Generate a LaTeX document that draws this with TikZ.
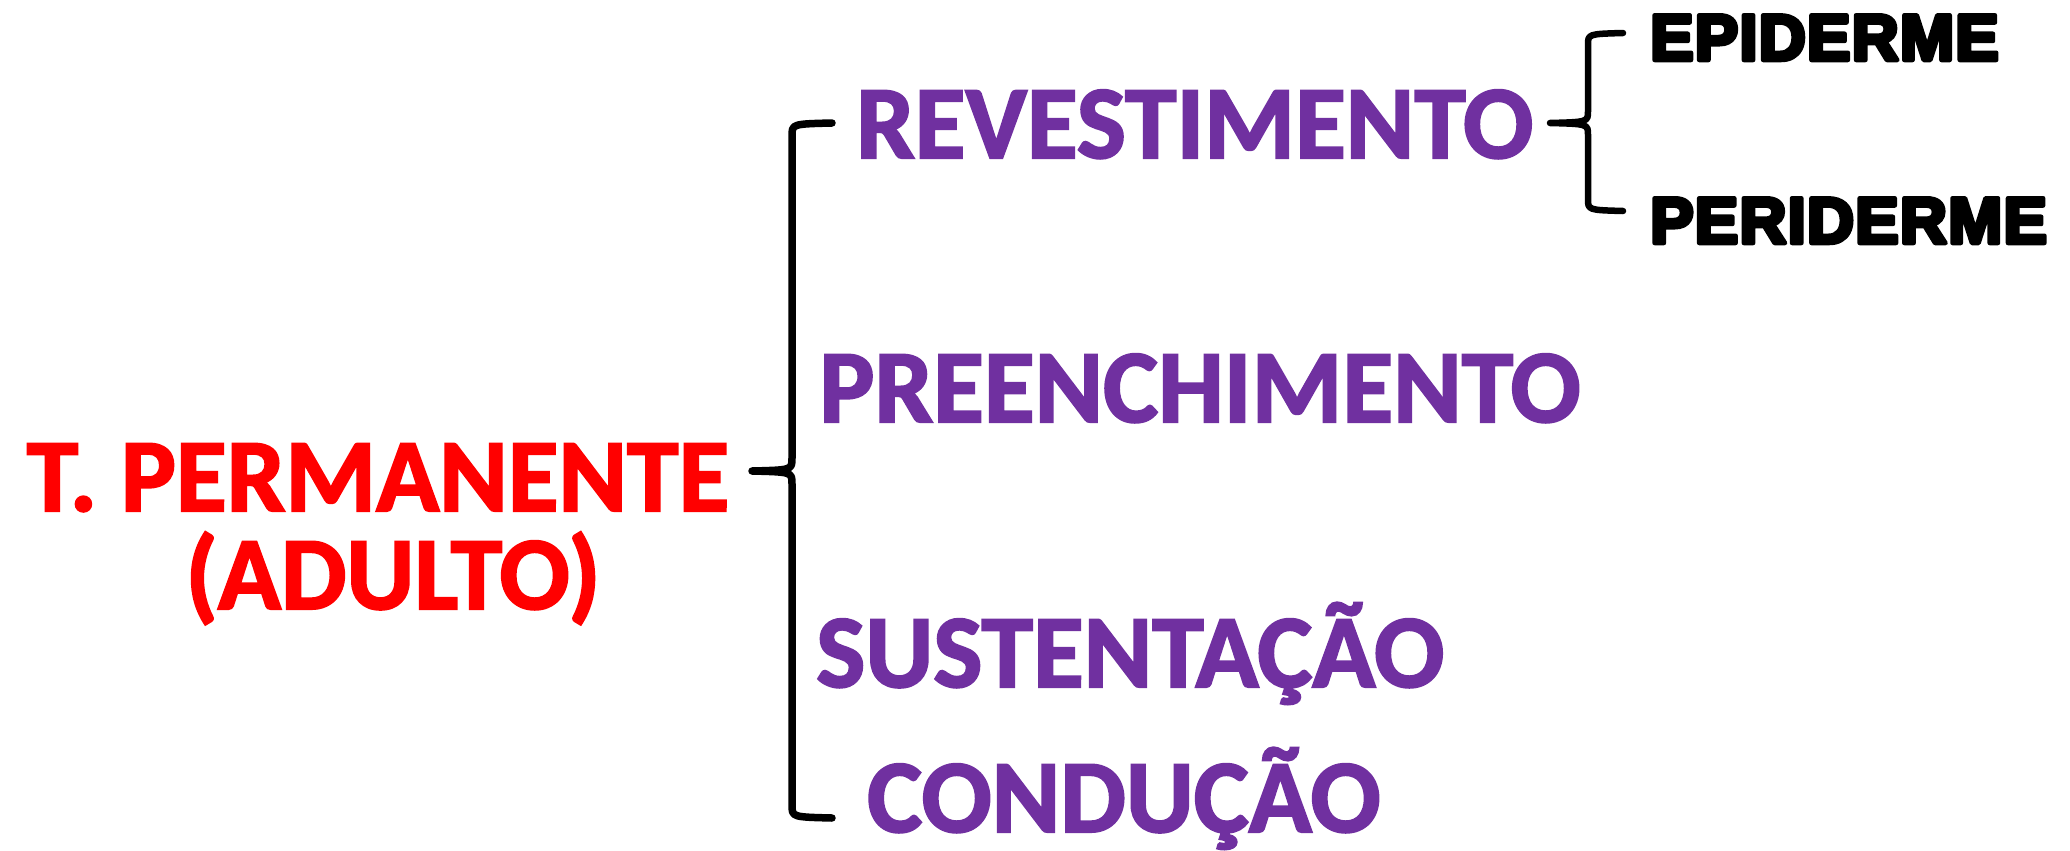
\documentclass[tikz,border=0pt]{standalone}
\usepackage{fontspec}
\setmainfont{Carlito}[BoldFeatures={FakeBold=2}]
\newfontfamily\blk{Liberation Sans}[LetterSpace=2]
\newcommand{\heavytext}[1]{\special{pdf:literal direct 1 j 1 J 2 Tr 4.5 w}#1\special{pdf:literal direct 0 Tr 1 w 0 j 0 J}}
\definecolor{tpurple}{HTML}{7030A0}
\tikzset{
  root/.style={font=\fontsize{104}{104}\selectfont\bfseries, text=red, inner sep=0pt, anchor=base},
  lvlone/.style={font=\fontsize{104}{104}\selectfont\bfseries, text=tpurple, inner sep=0pt, anchor=base west},
  lvltwo/.style={font=\blk\bfseries\fontsize{65}{65}\selectfont, text=black, inner sep=0pt, anchor=base west},
  bracepath/.style={draw=black, line width=7.5pt, line cap=round, line join=round}
}
\begin{document}
\begin{tikzpicture}[x=1pt,y=-1pt]
\useasboundingbox (0,0) rectangle (2070,851);
% root
\node[root] (tp) at (378,511) {T. PERMANENTE};
\node[root] (ad) at (393,609) {(ADULTO)};
% level one
\node[lvlone] (rev) at (856,158) {REVESTIMENTO};
\node[lvlone] (pre) at (819,422) {PREENCHIMENTO};
\node[lvlone] (sus) at (816,687) {SUSTENTAÇÃO};
\node[lvlone] (con) at (867,832) {CONDUÇÃO};
% level two
\node[lvltwo] (epi) at (1650,60) {\heavytext{EPIDERME}};
\node[lvltwo] (per) at (1650,243) {\heavytext{PERIDERME}};
% main brace
\coordinate (mtip) at (752,471);
\coordinate (mtop) at (832,123);
\coordinate (mbot) at (832,818);
\draw[bracepath] (mtop) .. controls (792,124) .. (792,136) -- (792,458)
  .. controls (792,470) .. (mtip) .. controls (792,472) .. (792,484)
  -- (792,805) .. controls (792,817) .. (mbot);
% second brace
\coordinate (stip) at (1550,123);
\coordinate (stop) at (1623,33);
\coordinate (sbot) at (1623,211);
\draw[bracepath, line width=6.5pt] (stop) .. controls (1588,34) .. (1588,45) -- (1588,111)
  .. controls (1588,122) .. (stip) .. controls (1588,124) .. (1588,135)
  -- (1588,199) .. controls (1588,210) .. (sbot);
\end{tikzpicture}
\end{document}
